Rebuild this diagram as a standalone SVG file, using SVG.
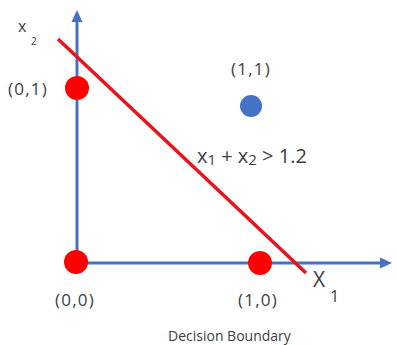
<svg xmlns="http://www.w3.org/2000/svg" width="397" height="345" viewBox="0 0 397 345">
<defs>
<marker id="ah" markerWidth="13" markerHeight="12" refX="6" refY="6" orient="auto" markerUnits="userSpaceOnUse">
<path d="M0,0.5 L12,6 L0,11.5 z" fill="#4472C4"/>
</marker>
<style>
text{font-family:"Open Sans","Liberation Sans",sans-serif;fill:#404040}
.lbl{font-size:17px;letter-spacing:1.2px}
.axis{stroke:#4472C4;stroke-width:3;fill:none}
.red{fill:#FF0000}
</style>
</defs>
<rect width="397" height="345" fill="#ffffff"/>
<g id="connectors">
<line class="axis" x1="77" y1="264" x2="77" y2="16" marker-end="url(#ah)"/>
<line class="axis" x1="76" y1="263" x2="386" y2="263" marker-end="url(#ah)"/>
<line x1="58" y1="39" x2="306" y2="273" stroke="#E8141B" stroke-width="3.5"/>
</g>
<g id="p01"><circle class="red" cx="77" cy="88" r="12"/><text class="lbl" x="8" y="95">(0,1)</text></g>
<g id="p11"><circle cx="251" cy="106" r="11" fill="#4472C4"/><text class="lbl" x="231" y="75">(1,1)</text></g>
<g id="p00"><circle class="red" cx="76" cy="262" r="12"/><text class="lbl" x="55" y="306">(0,0)</text></g>
<g id="p10"><circle class="red" cx="260" cy="263" r="12"/><text class="lbl" x="238" y="306">(1,0)</text></g>
<g id="eq"><text x="197" y="163" font-size="20">x<tspan font-size="15" dy="2">1</tspan><tspan dy="-2"> + x</tspan><tspan font-size="15" dy="2">2</tspan><tspan dy="-2"> &gt; 1.2</tspan></text></g>
<g id="x1"><text x="313" y="287" font-size="21">X</text><text x="330" y="302" font-size="16">1</text></g>
<g id="x2"><text x="18" y="32" font-size="16">x</text><text x="31" y="45" font-size="10">2</text></g>
<g id="caption"><text x="168" y="341" font-size="14">Decision Boundary</text></g>
</svg>
